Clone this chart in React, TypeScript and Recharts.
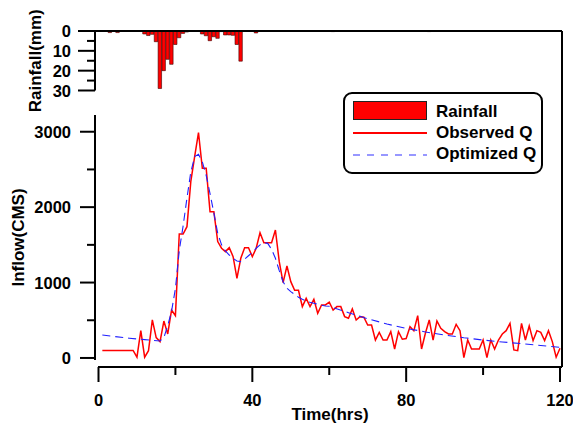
import React from 'react';
import { ComposedChart, BarChart, Bar, Line, XAxis, YAxis, Legend } from 'recharts';

const FONT = '"Liberation Sans", Arial, Helvetica, sans-serif';

// ---------- data ----------
const hours = Array.from({ length: 120 }, (_, i) => i + 1);
const observedQ = [
  100, 100, 100, 100, 100, 100, 100, 100, 100, 10,
  362, 10, 97, 504, 270, 217, 490, 318, 636, 561,
  1644, 1644, 1741, 2338, 2670, 2988, 2516, 2516, 1940, 1940,
  1543, 1455, 1410, 1463, 1344, 1057, 1322, 1463, 1463, 1344,
  1455, 1661, 1529, 1529, 1529, 1697, 1277, 998, 1220, 1012,
  897, 897, 681, 791, 681, 778, 593, 703, 703, 739,
  636, 681, 681, 548, 526, 650, 504, 548, 540, 437,
  437, 238, 340, 238, 238, 349, 119, 349, 248, 257,
  415, 362, 561, 119, 327, 504, 238, 490, 393, 349,
  318, 318, 446, 362, 5, 238, 119, 119, 119, 238,
  5, 238, 119, 238, 318, 362, 459, 106, 97, 459,
  238, 424, 230, 362, 340, 230, 362, 217, 10, 128,
];

const optHours = [
  1, 4, 8, 12, 16, 17, 18, 19, 20, 21, 22, 23, 24, 25, 26, 27, 28, 29, 30,
  31, 32, 33, 34, 35, 36, 37, 38, 39, 40, 41, 42, 43, 44, 45, 46, 47, 48, 49, 50,
  51, 52, 53, 54, 55, 56, 57, 58, 59, 60, 65, 70, 75, 80, 85, 90, 95, 100, 105, 110, 115, 120,
];
const optimizedQ = [
  305, 285, 262, 243, 225, 270, 430, 620, 920, 1425, 1750, 2120, 2465, 2670, 2700, 2600, 2420, 2180, 1920,
  1653, 1500, 1420, 1365, 1320, 1285, 1278, 1310, 1355, 1400, 1455, 1500, 1529, 1520, 1441, 1322, 1158, 1012, 924, 879,
  844, 805, 778, 756, 739, 725, 712, 699, 690, 685, 600, 520, 450, 393, 345, 305, 268, 238, 212, 190, 165, 142,
];

const rainHours = [3, 5, 12, 13, 14, 15, 16, 17, 18, 19, 20, 21, 22, 23, 27, 28, 29, 30, 31, 32, 33, 34, 35, 36, 37, 41, 61, 86];
const rainMm = [0.8, 0.8, 1.5, 2.3, 1.7, 5.4, 29, 20, 14.3, 16.8, 6.8, 3.4, 1.2, 0.5, 1.5, 2.4, 4.9, 2.9, 3.7, 0.3, 2, 2, 2.2, 6.8, 15.2, 1, 0.3, 0.3];

const qTicks = [0, 500, 1000, 1500, 2000, 2500, 3000];
const qLabels = [0, 1000, 2000, 3000];
const rainTicks = [0, 5, 10, 15, 20, 25, 30];
const rainLabels = [0, 10, 20, 30];
const timeTicks = [0, 20, 40, 60, 80, 100, 120];
const timeLabels = [0, 40, 80, 120];

const obsData = hours.map((t, i) => ({ t, q: observedQ[i] }));
const optData = optHours.map((t, i) => ({ t, q: optimizedQ[i] }));
const rainData = rainHours.map((t, i) => ({ t, rain: rainMm[i] }));

// ---------- helpers ----------
const makeYTick = (labels: number[], major: number, minor: number, gap: number) => (props: any) => {
  const { x, y, payload } = props;
  const isMajor = labels.includes(payload.value);
  return (
    <g>
      <line x1={x - (isMajor ? major : minor)} x2={x} y1={y} y2={y} stroke="#000" strokeWidth={2} />
      {isMajor && (
        <text x={x - major - gap} y={y} textAnchor="end" dominantBaseline="central"
          fontFamily={FONT} fontWeight="bold" fontSize={16.5} fill="#000">{payload.value}</text>
      )}
    </g>
  );
};

const XTick = (props: any) => {
  const { x, y, payload } = props;
  const isMajor = timeLabels.includes(payload.value);
  return (
    <g>
      <line x1={x} x2={x} y1={y} y2={y + (isMajor ? 15 : 8)} stroke="#000" strokeWidth={2} />
      {isMajor && (
        <text x={x} y={y + 33} textAnchor="middle" dominantBaseline="central"
          fontFamily={FONT} fontWeight="bold" fontSize={16.5} fill="#000">{payload.value}</text>
      )}
    </g>
  );
};

const yTitle = (text: string, cx: number) => (props: any) => {
  const vb = props.viewBox || {};
  const cy = vb.y + vb.height / 2;
  return (
    <text x={cx} y={cy} transform={`rotate(-90 ${cx} ${cy})`} textAnchor="middle" dominantBaseline="central"
      fontFamily={FONT} fontWeight="bold" fontSize={17} fill="#000">{text}</text>
  );
};

const xTitle = (props: any) => {
  const vb = props.viewBox || {};
  const cx = vb.x + vb.width / 2;
  return (
    <text x={cx} y={420} textAnchor="middle" fontFamily={FONT} fontWeight="bold" fontSize={17} fill="#000">Time(hrs)</text>
  );
};

const LegendBox = () => {
  const txt: React.CSSProperties = { position: 'absolute', left: 91, lineHeight: '17px', whiteSpace: 'nowrap' };
  return (
    <div style={{ position: 'relative', width: 200, height: 82, boxSizing: 'border-box', border: '2px solid #000', borderRadius: 9, background: '#fff', fontFamily: FONT, fontWeight: 'bold', fontSize: 17, color: '#000' }}>
      <div style={{ position: 'absolute', left: 8, top: 7, width: 74, height: 19, background: '#ff0000', border: '1.5px solid #222', boxSizing: 'border-box' }} />
      <div style={{ ...txt, top: 8.6 }}>Rainfall</div>
      <div style={{ position: 'absolute', left: 8, top: 38, width: 74, height: 1.5, background: '#ff0000' }} />
      <div style={{ ...txt, top: 29.8 }}>Observed Q</div>
      <svg style={{ position: 'absolute', left: 8, top: 59 }} width={74} height={4}>
        <line x1={0} x2={74} y1={2} y2={2} stroke="#3030ff" strokeWidth={1.2} strokeDasharray="7 7" />
      </svg>
      <div style={{ ...txt, top: 51.4 }}>Optimized Q</div>
    </div>
  );
};

const T_MIN = -0.91;
const T_MAX = 120.52;

export default function App() {
  return (
    <div style={{ position: 'absolute', left: 0, top: 0, width: 573, height: 423, background: '#fff', overflow: 'hidden' }}>
      {/* frame: x axis + right border */}
      <div style={{ position: 'absolute', left: 0, top: 0 }}>
        <ComposedChart width={573} height={423} data={obsData} margin={{ top: 31, right: 10, bottom: 6, left: 98 }}>
          <XAxis dataKey="t" type="number" domain={[-0.13, T_MAX]} ticks={timeTicks} interval={0}
            tickSize={0} tickMargin={0} tickLine={false} tick={XTick} height={50}
            axisLine={{ stroke: '#000', strokeWidth: 2 }} allowDataOverflow label={xTitle} />
          <YAxis orientation="right" width={1} domain={[0, 1]} tick={false} tickLine={false}
            axisLine={{ stroke: '#000', strokeWidth: 2 }} allowDataOverflow />
        </ComposedChart>
      </div>
      {/* rainfall panel */}
      <div style={{ position: 'absolute', left: 0, top: 0 }}>
        <BarChart width={573} height={130} data={rainData} margin={{ top: 30, right: 11, bottom: 39.5, left: 35 }}>
          <XAxis dataKey="t" type="number" orientation="top" domain={[T_MIN, T_MAX]} height={1}
            tick={false} tickLine={false} axisLine={{ stroke: '#000', strokeWidth: 2 }} allowDataOverflow />
          <YAxis reversed domain={[0, 30]} ticks={rainTicks} interval={0} width={60}
            tickSize={0} tickMargin={0} tickLine={false} tick={makeYTick(rainLabels, 17, 8, 7)}
            axisLine={{ stroke: '#000', strokeWidth: 2 }} allowDataOverflow label={yTitle('Rainfall(mm)', 35)} />
          <Bar dataKey="rain" name="Rainfall" fill="#ff0000" stroke="#3a0000" strokeWidth={0.6} barSize={3.85} isAnimationActive={false} />
        </BarChart>
      </div>
      {/* main flow panel */}
      <div style={{ position: 'absolute', left: 0, top: 0 }}>
        <ComposedChart width={573} height={423} margin={{ top: 115, right: 11, bottom: 63, left: 35 }}>
          <XAxis dataKey="t" type="number" domain={[T_MIN, T_MAX]} hide allowDataOverflow />
          <YAxis domain={[-27, 3222]} ticks={qTicks} interval={0} width={60}
            tickSize={0} tickMargin={0} tickLine={false} tick={makeYTick(qLabels, 15, 8, 9)}
            axisLine={{ stroke: '#000', strokeWidth: 2 }} allowDataOverflow label={yTitle('Inflow(CMS)', 18)} />
          <Line data={obsData} dataKey="q" name="Observed Q" stroke="#ff0000" strokeWidth={1.5} dot={false} isAnimationActive={false} />
          <Line data={optData} dataKey="q" name="Optimized Q" stroke="#2020ff" strokeWidth={1.1} strokeDasharray="8 5" dot={false} isAnimationActive={false} />
          <Legend verticalAlign="middle" align="center" layout="horizontal"
            wrapperStyle={{ position: 'absolute', left: 343, top: 92, width: 200, height: 82, margin: 0, padding: 0 }}
            content={() => <LegendBox />} />
        </ComposedChart>
      </div>
    </div>
  );
}
